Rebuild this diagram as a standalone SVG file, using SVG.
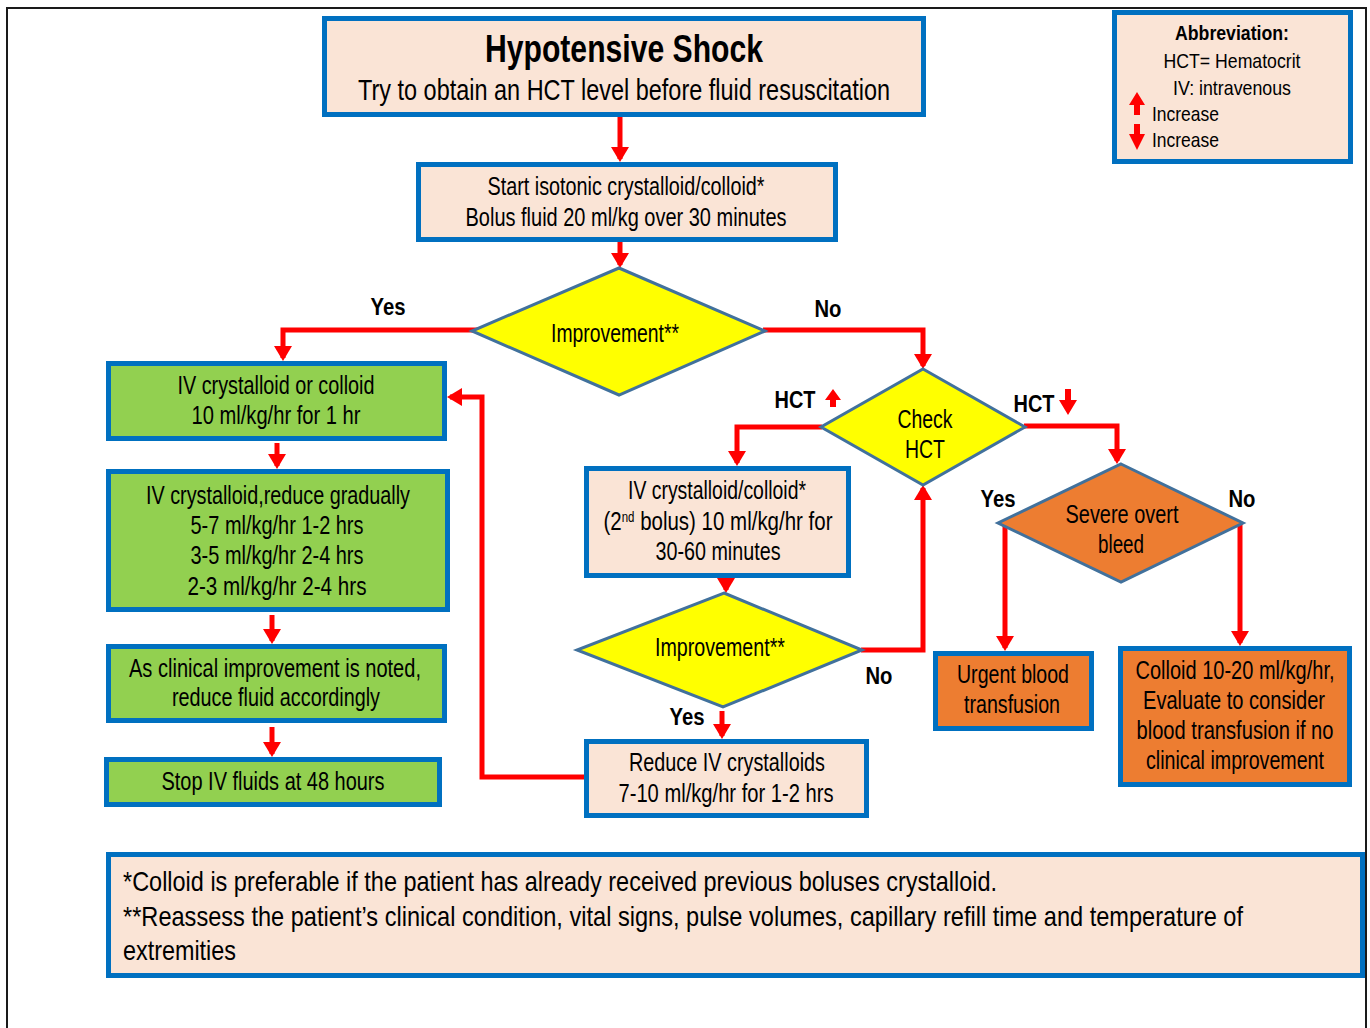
<svg xmlns="http://www.w3.org/2000/svg" width="1370" height="1028" viewBox="0 0 1370 1028">
  <style>
    .box { stroke: #0070C0; stroke-width: 5; }
    .peach { fill: #FAE4D6; }
    .green { fill: #92D050; }
    .orange { fill: #ED7D31; }
    .yellow { fill: #FFFF00; }
    .dia { stroke: #41719C; stroke-width: 3; stroke-linejoin: miter; }
    .t { font-family: "Liberation Sans", Arial, sans-serif; font-size: 25px; fill: #000; text-anchor: middle; }
    .l { text-anchor: start; }
    .b { font-weight: bold; font-size: 23px; }
    .leg { font-size: 21px; }
    .foot { font-size: 28px; }
    .conn { fill: none; stroke: #FF0000; stroke-width: 5; }
    .red { fill: #FF0000; }
  </style>
  <defs>
    <marker id="head" viewBox="0 0 15 18" markerUnits="userSpaceOnUse" markerWidth="15" markerHeight="18" refX="12" refY="9" orient="auto">
      <path d="M0,0 L15,9 L0,18 z" fill="#FF0000"/>
    </marker>
  </defs>

  <rect width="1370" height="1028" fill="#FFFFFF"/>
  <!-- page frame -->
  <rect x="7" y="8" width="1359" height="1040" fill="none" stroke="#1a1a1a" stroke-width="2"/>

  <!-- connectors -->
  <g id="connectors" marker-end="url(#head)">
    <path class="conn" d="M620,117 V159"/>
    <path class="conn" d="M620,242 V265"/>
    <path class="conn" d="M481,330 H283 V358"/>
    <path class="conn" d="M763,330 H923 V366"/>
    <path class="conn" d="M822,427 H737 V463"/>
    <path class="conn" d="M1024,426 H1117 V461"/>
    <path class="conn" d="M1005,526 V648"/>
    <path class="conn" d="M1240,524 V643"/>
    <path class="conn" d="M726,578 V590"/>
    <path class="conn" d="M861,650 H923 V488"/>
    <path class="conn" d="M722,711 V736"/>
    <path class="conn" d="M584,777 H482 V397 H450"/>
    <path class="conn" d="M277,443 V466"/>
    <path class="conn" d="M272,615 V641"/>
    <path class="conn" d="M272,727 V754"/>
  </g>

  <!-- title -->
  <g id="title">
    <rect class="box peach" x="324.5" y="18.5" width="599" height="96"/>
    <text class="t" x="624" y="62" style="font-size:38px;font-weight:bold" textLength="278" lengthAdjust="spacingAndGlyphs">Hypotensive Shock</text>
    <text class="t" x="624" y="100" style="font-size:29px" textLength="532" lengthAdjust="spacingAndGlyphs">Try to obtain an HCT level  before fluid resuscitation</text>
  </g>

  <!-- legend -->
  <g id="abbreviation">
    <rect class="box peach" x="1114.5" y="12.5" width="236" height="149"/>
    <text class="t leg" x="1232" y="40" style="font-weight:bold" textLength="114" lengthAdjust="spacingAndGlyphs">Abbreviation:</text>
    <text class="t leg" x="1232" y="68" textLength="137" lengthAdjust="spacingAndGlyphs">HCT= Hematocrit</text>
    <text class="t leg" x="1232" y="95" textLength="118" lengthAdjust="spacingAndGlyphs">IV: intravenous</text>
    <polygon class="red" points="1137,92 1145,105 1140,105 1140,115 1134,115 1134,105 1129,105"/>
    <text class="t leg l" x="1152" y="121" textLength="67" lengthAdjust="spacingAndGlyphs">Increase</text>
    <polygon class="red" points="1134,124 1140,124 1140,134 1145,134 1137,150 1129,134 1134,134"/>
    <text class="t leg l" x="1152" y="147" textLength="67" lengthAdjust="spacingAndGlyphs">Increase</text>
  </g>

  <g id="start">
    <rect class="box peach" x="418.5" y="164.5" width="417" height="75"/>
    <text class="t" x="626" y="195" textLength="277" lengthAdjust="spacingAndGlyphs">Start isotonic crystalloid/colloid*</text>
    <text class="t" x="626" y="226" textLength="321" lengthAdjust="spacingAndGlyphs">Bolus fluid 20 ml/kg over 30 minutes</text>
  </g>

  <g id="improvement1">
    <polygon class="dia yellow" points="619,268 765,331 619,395 472,331"/>
    <text class="t" x="615" y="342" textLength="128" lengthAdjust="spacingAndGlyphs">Improvement**</text>
    <text class="t b" x="388" y="315" textLength="35" lengthAdjust="spacingAndGlyphs">Yes</text>
    <text class="t b" x="828" y="317" textLength="27" lengthAdjust="spacingAndGlyphs">No</text>
  </g>

  <g id="check-hct">
    <polygon class="dia yellow" points="923,369 1025,427 923,485 821,427"/>
    <text class="t" x="925" y="428" textLength="55" lengthAdjust="spacingAndGlyphs">Check</text>
    <text class="t" x="925" y="458" textLength="40" lengthAdjust="spacingAndGlyphs">HCT</text>
    <text class="t b" x="795" y="408" textLength="41" lengthAdjust="spacingAndGlyphs">HCT</text>
    <polygon class="red" points="833,389 841,400 836,400 836,407 830,407 830,400 825,400"/>
    <text class="t b" x="1034" y="412" textLength="41" lengthAdjust="spacingAndGlyphs">HCT</text>
    <polygon class="red" points="1065,389 1071,389 1071,400 1077,400 1068,415 1059,400 1065,400"/>
  </g>

  <g id="bleed">
    <polygon class="dia orange" points="1121,464 1243,523 1121,582 998,523"/>
    <text class="t" x="1122" y="523" textLength="113" lengthAdjust="spacingAndGlyphs">Severe  overt</text>
    <text class="t" x="1121" y="553" textLength="46" lengthAdjust="spacingAndGlyphs">bleed</text>
    <text class="t b" x="998" y="507" textLength="35" lengthAdjust="spacingAndGlyphs">Yes</text>
    <text class="t b" x="1242" y="507" textLength="27" lengthAdjust="spacingAndGlyphs">No</text>
  </g>

  <g id="urgent-transfusion">
    <rect class="box orange" x="935.5" y="653.5" width="156" height="75"/>
    <text class="t" x="1013" y="683" textLength="112" lengthAdjust="spacingAndGlyphs">Urgent blood</text>
    <text class="t" x="1012" y="713" textLength="96" lengthAdjust="spacingAndGlyphs">transfusion</text>
  </g>

  <g id="colloid">
    <rect class="box orange" x="1120.5" y="648.5" width="229" height="136"/>
    <text class="t" x="1235" y="679" textLength="199" lengthAdjust="spacingAndGlyphs">Colloid  10-20  ml/kg/hr,</text>
    <text class="t" x="1234" y="709" textLength="182" lengthAdjust="spacingAndGlyphs">Evaluate  to consider</text>
    <text class="t" x="1235" y="739" textLength="197" lengthAdjust="spacingAndGlyphs">blood  transfusion if no</text>
    <text class="t" x="1235" y="769" textLength="178" lengthAdjust="spacingAndGlyphs">clinical  improvement</text>
  </g>

  <g id="second-bolus">
    <rect class="box peach" x="586.5" y="468.5" width="262" height="107"/>
    <text class="t" x="717" y="499" textLength="178" lengthAdjust="spacingAndGlyphs">IV crystalloid/colloid*</text>
    <text class="t" x="718" y="530" textLength="229" lengthAdjust="spacingAndGlyphs">(2<tspan style="font-size:14px" dy="-8">nd</tspan><tspan dy="8"> bolus)  10 ml/kg/hr  for</tspan></text>
    <text class="t" x="718" y="560" textLength="125" lengthAdjust="spacingAndGlyphs">30-60 minutes</text>
  </g>

  <g id="improvement2">
    <polygon class="dia yellow" points="724,593 862,650 723,707 577,650"/>
    <text class="t" x="720" y="656" textLength="130" lengthAdjust="spacingAndGlyphs">Improvement**</text>
    <text class="t b" x="879" y="684" textLength="27" lengthAdjust="spacingAndGlyphs">No</text>
    <text class="t b" x="687" y="725" textLength="35" lengthAdjust="spacingAndGlyphs">Yes</text>
  </g>

  <g id="reduce">
    <rect class="box peach" x="586.5" y="741.5" width="280" height="74"/>
    <text class="t" x="727" y="771" textLength="196" lengthAdjust="spacingAndGlyphs">Reduce  IV crystalloids</text>
    <text class="t" x="726" y="802" textLength="215" lengthAdjust="spacingAndGlyphs">7-10 ml/kg/hr  for 1-2 hrs</text>
  </g>

  <g id="iv-one-hour">
    <rect class="box green" x="108.5" y="363.5" width="336" height="75"/>
    <text class="t" x="276" y="394" textLength="197" lengthAdjust="spacingAndGlyphs">IV crystalloid  or colloid</text>
    <text class="t" x="276" y="424" textLength="169" lengthAdjust="spacingAndGlyphs">10 ml/kg/hr for 1 hr</text>
  </g>

  <g id="reduce-gradually">
    <rect class="box green" x="108.5" y="471.5" width="339" height="138"/>
    <text class="t" x="278" y="504" textLength="264" lengthAdjust="spacingAndGlyphs">IV crystalloid,reduce  gradually</text>
    <text class="t" x="277" y="534" textLength="173" lengthAdjust="spacingAndGlyphs">5-7 ml/kg/hr  1-2 hrs</text>
    <text class="t" x="277" y="564" textLength="173" lengthAdjust="spacingAndGlyphs">3-5 ml/kg/hr  2-4 hrs</text>
    <text class="t" x="277" y="595" textLength="179" lengthAdjust="spacingAndGlyphs">2-3 ml/kg/hr   2-4 hrs</text>
  </g>

  <g id="clinical-improvement">
    <rect class="box green" x="108.5" y="646.5" width="336" height="74"/>
    <text class="t" x="275" y="677" textLength="292" lengthAdjust="spacingAndGlyphs">As clinical  improvement  is noted,</text>
    <text class="t" x="276" y="706" textLength="208" lengthAdjust="spacingAndGlyphs">reduce  fluid  accordingly</text>
  </g>

  <g id="stop-fluids">
    <rect class="box green" x="106.5" y="759.5" width="333" height="45"/>
    <text class="t" x="273" y="790" textLength="223" lengthAdjust="spacingAndGlyphs">Stop  IV fluids  at 48 hours</text>
  </g>

  <g id="footnotes">
    <rect class="box peach" x="108.5" y="854.5" width="1254" height="121"/>
    <text class="t foot l" x="123" y="891" textLength="874" lengthAdjust="spacingAndGlyphs">*Colloid  is preferable  if the patient has already  received  previous  boluses  crystalloid.</text>
    <text class="t foot l" x="123" y="926" textLength="1120" lengthAdjust="spacingAndGlyphs">**Reassess  the patient’s clinical  condition,  vital signs,  pulse volumes,  capillary  refill time and temperature of</text>
    <text class="t foot l" x="123" y="960" textLength="113" lengthAdjust="spacingAndGlyphs">extremities</text>
  </g>
</svg>
